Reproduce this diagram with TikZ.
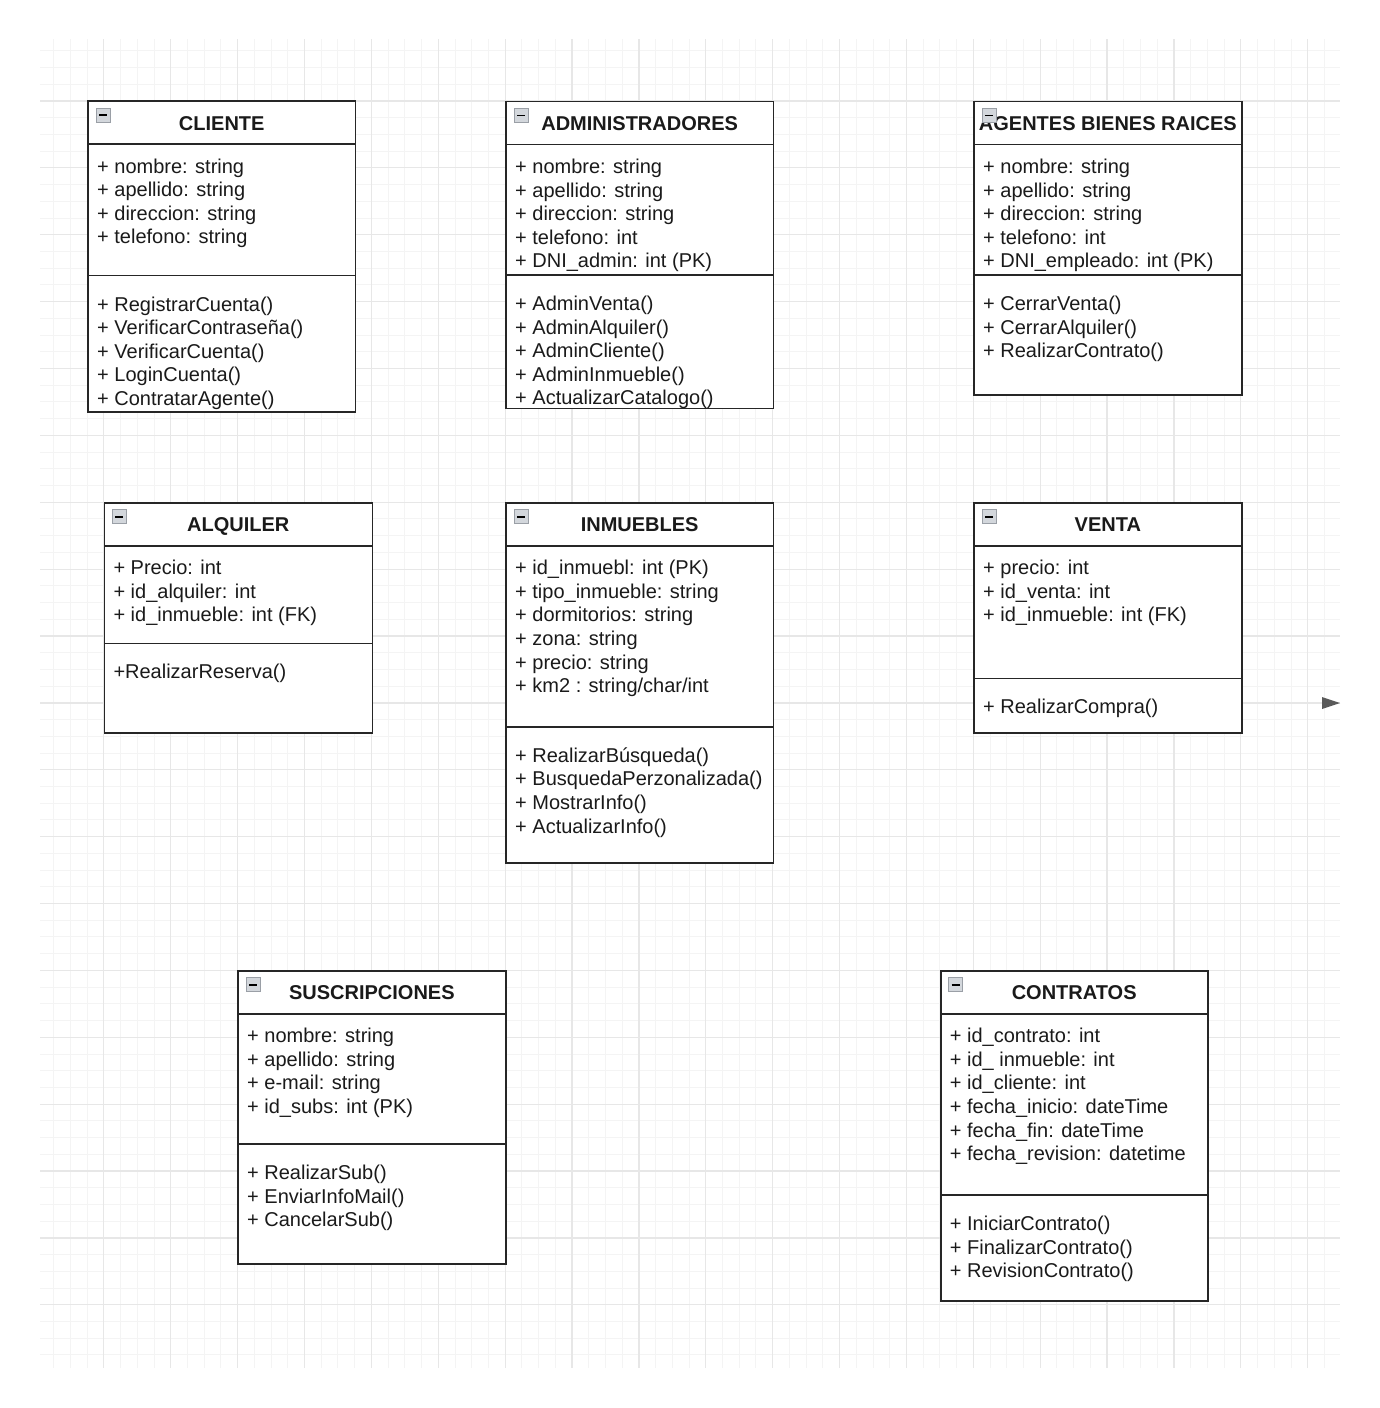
\documentclass[tikz,border=0pt]{standalone}
\usepackage{fontspec}
\setmainfont{Liberation Sans}
\definecolor{minorgrid}{HTML}{F4F4F4}
\definecolor{majorgrid}{HTML}{E7E7E7}
\definecolor{linegray}{HTML}{262626}
\definecolor{icongray}{HTML}{D3D7DC}
\definecolor{iconborder}{HTML}{9A9FA6}
\definecolor{arrowgray}{HTML}{5A5A5A}
\definecolor{textcol}{HTML}{1A1A1A}
\tikzset{
  classbox/.style={draw=linegray, line width=1.6pt, fill=white, rectangle, inner sep=0pt, outer sep=0pt},
  sepline/.style={draw=linegray, line width=1.6pt},
  titletext/.style={font=\fontsize{20}{24}\selectfont\bfseries, inner sep=0pt, anchor=base, text=textcol},
  membertext/.style={font=\fontsize{20}{24}\selectfont, inner sep=0pt, anchor=base west, text=textcol},
  iconbox/.style={draw=iconborder, fill=icongray, line width=0.8pt, rectangle, minimum size=14pt, inner sep=0pt, outer sep=0pt, anchor=north west},
  icondash/.style={draw=black, line width=1.6pt},
  minorline/.style={draw=minorgrid, line width=1pt},
  majorline/.style={draw=majorgrid, line width=1.2pt},
}
% #1 name, #2 left, #3 top, #4 right, #5 divider, #6 bottom, #7 title, #8 attributes, #9 methods
\newcommand\umlclass[9]{%
  \node[classbox, anchor=north west, minimum width={#4-#2}, minimum height={#6-#3}] (#1) at (#2,#3) {};
  \draw[sepline] ([yshift=-43pt]#1.north west) -- ([yshift=-43pt]#1.north east);
  \draw[sepline] ([yshift={(#3-#5)*1pt}]#1.north west) -- ([yshift={(#3-#5)*1pt}]#1.north east);
  \node[titletext] (#1-title) at ({(#2+#4)/2},{#3+29}) {#7};
  \foreach \mem [count=\ii] in {#8} {\node[membertext] (#1-a\ii) at ({#2+9},{#3+72+23.6*(\ii-1)}) {\mem};}
  \foreach \mem [count=\ii] in {#9} {\node[membertext] (#1-m\ii) at ({#2+9},{#5+35.5+23.6*(\ii-1)}) {\mem};}
  \node[iconbox] (#1-icon) at ({#2+8},{#3+7}) {};
  \draw[icondash] ([xshift=-4pt]#1-icon.center) -- ([xshift=4pt]#1-icon.center);
}
\begin{document}
\begin{tikzpicture}[x=1pt,y=-1pt]
\useasboundingbox (0,0) rectangle (1380,1408);
\fill[white] (0,0) rectangle (1380,1408);
% grid
\begin{scope}
  \clip (40,39) rectangle (1340,1368);
  \foreach \k in {0,...,78} {\draw[minorline] ({37+16.72*\k},39) -- ({37+16.72*\k},1368);}
  \foreach \k in {0,...,80} {\draw[minorline] (40,{34.1+16.72*\k}) -- (1340,{34.1+16.72*\k});}
  \foreach \k in {0,...,19} {\draw[majorline] ({37+66.88*\k},39) -- ({37+66.88*\k},1368);}
  \foreach \k in {0,...,20} {\draw[majorline] (40,{34.1+66.88*\k}) -- (1340,{34.1+66.88*\k});}
\end{scope}

\umlclass{cliente}{88}{101}{355.5}{275.5}{412}{CLIENTE}%
  {+ nombre: string, + apellido: string, + direccion: string, + telefono: string}%
  {+ RegistrarCuenta(), + VerificarContraseña(), + VerificarCuenta(), + LoginCuenta(), + ContratarAgente()}

\umlclass{admin}{506}{101.5}{773.3}{275}{408.3}{ADMINISTRADORES}%
  {+ nombre: string, + apellido: string, + direccion: string, + telefono: int, + DNI\_admin: int (PK)}%
  {+ AdminVenta(), + AdminAlquiler(), + AdminCliente(), + AdminInmueble(), + ActualizarCatalogo()}

\umlclass{agentes}{974}{101.5}{1241.7}{275}{395}{AGENTES BIENES RAICES}%
  {+ nombre: string, + apellido: string, + direccion: string, + telefono: int, + DNI\_empleado: int (PK)}%
  {+ CerrarVenta(), + CerrarAlquiler(), + RealizarContrato()}

\umlclass{alquiler}{104.3}{502.7}{372.3}{643.3}{732.7}{ALQUILER}%
  {+ Precio: int, + id\_alquiler: int, + id\_inmueble: int (FK)}%
  {+RealizarReserva()}

\umlclass{inmuebles}{506}{502.7}{773.3}{726.7}{862.7}{INMUEBLES}%
  {+ id\_inmuebl: int (PK), + tipo\_inmueble: string, + dormitorios: string, + zona: string, + precio: string, {+ km2 : string/char/int}}%
  {+ RealizarBúsqueda(), + BusquedaPerzonalizada(), + MostrarInfo(), + ActualizarInfo()}

\umlclass{venta}{974}{502.7}{1241.7}{678.3}{732.7}{VENTA}%
  {+ precio: int, + id\_venta: int, + id\_inmueble: int (FK)}%
  {+ RealizarCompra()}

\umlclass{suscripciones}{238}{970.7}{505.7}{1144}{1264}{SUSCRIPCIONES}%
  {+ nombre: string, + apellido: string, + e-mail: string, + id\_subs: int (PK)}%
  {+ RealizarSub(), + EnviarInfoMail(), + CancelarSub()}

\umlclass{contratos}{940.7}{970.7}{1207.7}{1195}{1301}{CONTRATOS}%
  {+ id\_contrato: int, + id\_ inmueble: int, + id\_cliente: int, + fecha\_inicio: dateTime, + fecha\_fin: dateTime, + fecha\_revision: datetime}%
  {+ IniciarContrato(), + FinalizarContrato(), + RevisionContrato()}

% stray arrowhead at right edge
\coordinate (arrowtip) at (1340,703);
\fill[arrowgray] (arrowtip) -- ++(-18,-6) -- ++(0,12) -- cycle;
\end{tikzpicture}
\end{document}
